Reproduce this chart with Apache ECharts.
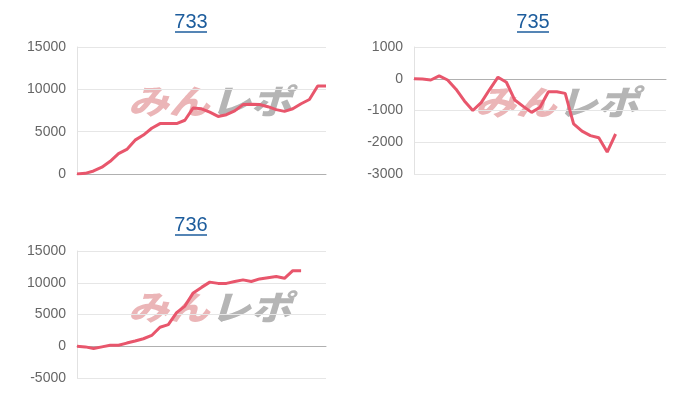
<!DOCTYPE html>
<html>
<head>
<meta charset="utf-8">
<script src="https://cdn.jsdelivr.net/npm/echarts@6/dist/echarts.min.js"></script>
<style>
html,body{margin:0;padding:0;background:#fff;}
#main{width:700px;height:400px;}
</style>
</head>
<body>
<div id="main"></div>
<script>
// Categories (31 slots, no labels shown)
const categories = ["1","2","3","4","5","6","7","8","9","10","11","12","13","14","15","16","17","18","19","20","21","22","23","24","25","26","27","28","29","30","31"];

// Chart titles
const titles = ["733", "735", "736"];

// Series values
const values733 = [0, 80, 360, 800, 1500, 2400, 2900, 4000, 4600, 5400, 5950, 5950, 5950, 6350, 7800, 7700, 7300, 6800, 7000, 7450, 8200, 8250, 8200, 7950, 7600, 7400, 7700, 8300, 8800, 10400, 10400];
const values735 = [0, -10, -40, 90, -40, -330, -700, -1000, -750, -340, 50, -110, -670, -870, -1060, -900, -410, -410, -460, -1420, -1650, -1790, -1860, -2310, -1740];
const values736 = [0, -100, -360, -100, 150, 150, 500, 820, 1180, 1700, 3000, 3400, 5300, 6330, 8400, 9270, 10100, 9900, 9900, 10200, 10450, 10200, 10600, 10800, 10970, 10700, 11900, 11900];

// Y axis ranges (min, max, interval)
const yRange733 = [0, 15000, 5000];
const yRange735 = [-3000, 1000, 1000];
const yRange736 = [-5000, 15000, 5000];

const LINE = '#e8566c';
const LINK = '#1c5c9c';
const FONT = 'Arial, "Liberation Sans", sans-serif';

const chart = echarts.init(document.getElementById('main'), null, {renderer: 'canvas'});

function xAxis(i) {
  return {
    type: 'category', gridIndex: i, data: categories, boundaryGap: false,
    axisLabel: {show: false}, axisTick: {show: false},
    axisLine: {show: true, onZero: true, lineStyle: {color: '#b0b0b0', width: 1}},
    splitLine: {show: false}
  };
}
function yAxis(i, r) {
  return {
    type: 'value', gridIndex: i, min: r[0], max: r[1], interval: r[2],
    axisLabel: {color: '#666666', fontSize: 14, fontFamily: FONT, margin: 11,
                formatter: function (v) { return String(v); }},
    axisTick: {show: false},
    axisLine: {show: true, lineStyle: {color: '#e2e2e2'}},
    splitLine: {show: true, lineStyle: {color: '#e6e6e6'}}
  };
}
function series(i, data) {
  return {
    type: 'line', xAxisIndex: i, yAxisIndex: i, data: data,
    symbol: 'none', lineStyle: {color: LINE, width: 3}, itemStyle: {color: LINE},
    z: 5, animation: false
  };
}
function watermark(x, y) {
  const font = 'italic 900 34px "Noto Sans CJK JP"';
  return [
    {type: 'text', x: x, y: y, scaleX: 1.2, z: 0, silent: true,
     style: {text: 'みん', fill: '#ebb5b7', font: font, textVerticalAlign: 'top'}},
    {type: 'text', x: x + 82, y: y, scaleX: 1.2, z: 0, silent: true,
     style: {text: 'レポ', fill: '#b5b5b5', font: font, textVerticalAlign: 'top'}}
  ];
}
function titleObj(text, cx, top) {
  return {
    text: text, left: cx, top: top, textAlign: 'center', padding: 0,
    textStyle: {color: LINK, fontSize: 20, fontWeight: 'normal', fontFamily: FONT}
  };
}
function underline(x1, x2, y) {
  return {type: 'line', z: 10, silent: true,
    shape: {x1: x1, y1: y, x2: x2, y2: y},
    style: {stroke: LINK, lineWidth: 1.5}};
}

chart.setOption({
  animation: false,
  title: [
    titleObj(titles[0], 191, 12),
    titleObj(titles[1], 533, 12),
    titleObj(titles[2], 191, 215)
  ],
  grid: [
    {left: 77, top: 47, width: 249, height: 127},
    {left: 414, top: 47, width: 252, height: 127},
    {left: 77, top: 251, width: 249, height: 127}
  ],
  xAxis: [xAxis(0), xAxis(1), xAxis(2)],
  yAxis: [yAxis(0, yRange733), yAxis(1, yRange735), yAxis(2, yRange736)],
  series: [series(0, values733), series(1, values735), series(2, values736)],
  graphic: [].concat(
    watermark(128, 84),
    watermark(475, 85),
    watermark(128, 290),
    [underline(175, 207, 32), underline(517, 549, 32), underline(175, 207, 235)]
  )
});
</script>
</body>
</html>
